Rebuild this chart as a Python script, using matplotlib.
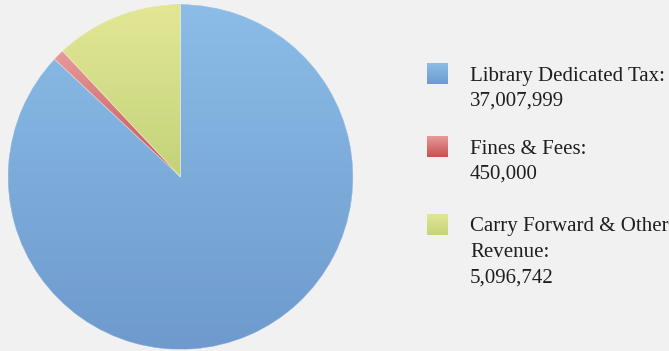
import numpy as np
import matplotlib
matplotlib.use("Agg")
import matplotlib.pyplot as plt
from matplotlib.colors import LinearSegmentedColormap
from matplotlib.patches import Wedge

plt.rcParams["font.family"] = "serif"
plt.rcParams["font.serif"] = ["Liberation Serif", "DejaVu Serif"]

# Revenue sources
categories = ["Library Dedicated Tax", "Fines & Fees", "Carry Forward & Other Revenue"]
values = [37007999, 450000, 5096742]
legend_lines = [
    ["Library Dedicated Tax:", "37,007,999"],
    ["Fines & Fees:", "450,000"],
    ["Carry Forward & Other", "Revenue:", "5,096,742"],
]
# top / bottom shades of each slice's vertical gradient
colors_top = ["#8bbde7", "#e69a9a", "#e3e794"]
colors_bottom = ["#6e9acd", "#c85050", "#c3d37a"]

BG = "#f1f1f1"
W, H = 669, 351
fig = plt.figure(figsize=(W / 100, H / 100), dpi=100)
fig.patch.set_facecolor(BG)

# pie area (pixel geometry)
cx, cy, r = 180.5, 177.0, 172.5
pax = fig.add_axes([(cx - r) / W, (H - cy - r) / H, 2 * r / W, 2 * r / H])
pax.set_xlim(-1, 1)
pax.set_ylim(-1, 1)
pax.set_aspect("equal")
pax.axis("off")

wedges, _ = pax.pie(values, startangle=90, counterclock=False, radius=1,
                    colors=colors_bottom, wedgeprops=dict(linewidth=0))

grad = np.linspace(1, 0, 256).reshape(-1, 1)
for w, ct, cb in zip(wedges, colors_top, colors_bottom):
    cmap = LinearSegmentedColormap.from_list("g", [cb, ct])
    ext = w.get_path().get_extents(w.get_patch_transform())
    im = pax.imshow(grad, cmap=cmap, vmin=0, vmax=1, aspect="auto",
                    extent=[ext.x0, ext.x1, ext.y0, ext.y1], zorder=2,
                    interpolation="bilinear")
    im.set_clip_path(w)
    # thin light edge between slices
    pax.add_patch(Wedge(w.center, w.r, w.theta1, w.theta2, facecolor="none",
                        edgecolor=(1, 1, 1, 0.35), linewidth=0.6, zorder=3))
pax.set_xlim(-1, 1)
pax.set_ylim(-1, 1)

# legend drawn in pixel coordinates
lax = fig.add_axes([0, 0, 1, 1])
lax.set_xlim(0, W)
lax.set_ylim(H, 0)
lax.axis("off")
lax.patch.set_alpha(0)

swatch_tops = [64, 137, 215]
line_gap = 25.5
for lines, top, ct, cb in zip(legend_lines, swatch_tops, colors_top, colors_bottom):
    cmap = LinearSegmentedColormap.from_list("g", [ct, cb])
    lax.imshow(np.linspace(0, 1, 64).reshape(-1, 1), cmap=cmap, aspect="auto",
               extent=[427, 448, top + 20.5, top], interpolation="bilinear")
    for i, txt in enumerate(lines):
        lax.text(470, top + 16.5 + i * line_gap, txt, fontsize=15.0,
                 color="#1e1e1e", va="baseline", ha="left")
lax.set_xlim(0, W)
lax.set_ylim(H, 0)

fig.savefig("out.png", dpi=100, facecolor=BG)
